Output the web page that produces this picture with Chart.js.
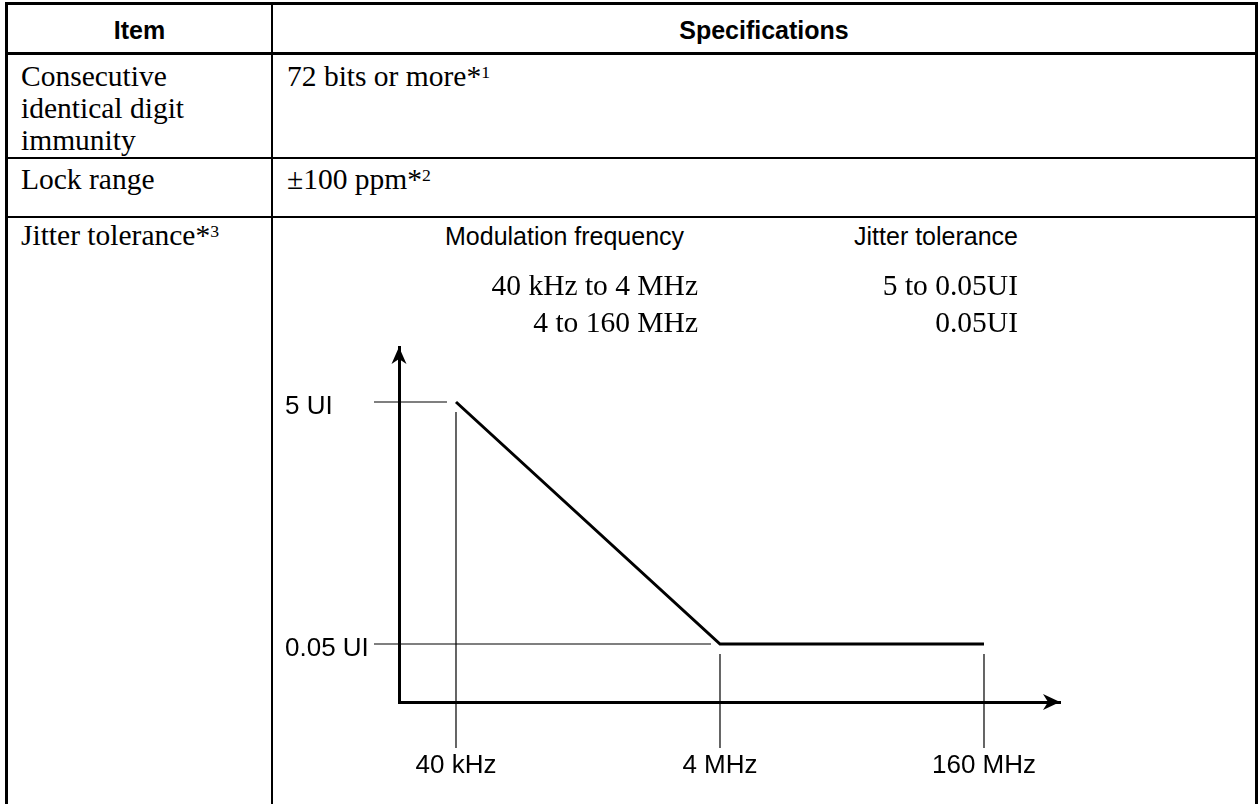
<!DOCTYPE html>
<html>
<head>
<meta charset="utf-8">
<script src="https://cdn.jsdelivr.net/npm/chart.js@4.4.1/dist/chart.umd.min.js"></script>
<style>
  html, body { margin: 0; padding: 0; background: #fff; }
  body { width: 1258px; height: 804px; position: relative; overflow: hidden; color: #000; }
  .ln { position: absolute; background: #000; }
  .t { position: absolute; white-space: nowrap; }
  .hd { font: bold 25px/25px "Liberation Sans", Arial, sans-serif; text-align: center; }
  .sf { font: 29.5px/32px "Liberation Serif", "Times New Roman", serif; }
  .ss { font: 25px/25px "Liberation Sans", Arial, sans-serif; }
  .sup { font-size: 60%; position: relative; top: -0.45em; }
  #chartBox { position: absolute; left: 274px; top: 300px; width: 980px; height: 500px; }
</style>
</head>
<body>
  <!-- table rules -->
  <div class="ln" style="left:5px;top:2px;width:1253px;height:3px"></div>
  <div class="ln" style="left:5px;top:2px;width:3px;height:810px"></div>
  <div class="ln" style="left:1255px;top:2px;width:3px;height:810px"></div>
  <div class="ln" style="left:271px;top:2px;width:2px;height:810px"></div>
  <div class="ln" style="left:5px;top:52px;width:1253px;height:3px"></div>
  <div class="ln" style="left:5px;top:157px;width:1253px;height:2px"></div>
  <div class="ln" style="left:5px;top:216px;width:1253px;height:2px"></div>

  <!-- header -->
  <div class="t hd" style="left:8px;width:263px;top:18px">Item</div>
  <div class="t hd" style="left:273px;width:982px;top:18px">Specifications</div>

  <!-- rows -->
  <div class="t sf" style="left:21px;top:60px">Consecutive<br>identical digit<br>immunity</div>
  <div class="t sf" style="left:287px;top:60px">72 bits or more*<span class="sup">1</span></div>
  <div class="t sf" style="left:21px;top:163px">Lock range</div>
  <div class="t sf" style="left:287px;top:163px">±100 ppm*<span class="sup">2</span></div>
  <div class="t sf" style="left:21px;top:219px">Jitter tolerance*<span class="sup">3</span></div>

  <div class="t ss" style="left:445px;top:224px">Modulation frequency</div>
  <div class="t ss" style="right:240px;top:224px">Jitter tolerance</div>

  <div id="chartBox"><canvas id="jitterChart" width="980" height="500"></canvas></div>

<script>
// spec table values
const modFreqRanges = ['40 kHz to 4 MHz', '4 to 160 MHz'];
const tolRanges = ['5 to 0.05UI', '0.05UI'];

// jitter tolerance mask
const freqLabels = ['40 kHz', '4 MHz', '160 MHz'];
const toleranceUI = [5, 0.05, 0.05];
const yTickValues = [0.05, 5];
const yTickLabels = ['0.05 UI', '5 UI'];

// text rows under the two headings
function putRows(list, right) {
  list.forEach((txt, i) => {
    let d = document.createElement('div');
    d.className = 't sf';
    d.style.right = right + 'px';
    d.style.top = (269 + i * 37) + 'px';
    d.textContent = txt;
    document.body.appendChild(d);
  });
}
putRows(modFreqRanges, 560);
putRows(tolRanges, 240);

const sansFont = { family: '"Liberation Sans", Arial, sans-serif', size: 26 };

// leader lines + axis arrow heads
const maskDecor = {
  id: 'maskDecor',
  beforeDatasetsDraw(chart) {
    const { ctx, chartArea } = chart;
    const xs = chart.scales.x, ys = chart.scales.y;
    ctx.save();
    ctx.strokeStyle = '#000';
    ctx.lineWidth = 1.2;
    ctx.beginPath();
    yTickValues.forEach(v => {
      let y = ys.getPixelForValue(v);
      let i = toleranceUI.indexOf(v);
      ctx.moveTo(chartArea.left - 25, y);
      ctx.lineTo(xs.getPixelForValue(i) - 9, y);
    });
    freqLabels.forEach((_, i) => {
      let x = xs.getPixelForValue(i);
      let y0 = ys.getPixelForValue(toleranceUI[i]) + 10;
      ctx.moveTo(x, y0);
      ctx.lineTo(x, chartArea.bottom + 46);
    });
    ctx.stroke();
    ctx.restore();
  },
  afterDraw(chart) {
    const { ctx, chartArea } = chart;
    ctx.save();
    ctx.fillStyle = '#000';
    // x arrow
    let tx = chartArea.right, ty = chartArea.bottom;
    ctx.beginPath();
    ctx.moveTo(tx, ty);
    ctx.lineTo(tx - 17, ty - 8);
    ctx.lineTo(tx - 12, ty);
    ctx.lineTo(tx - 17, ty + 8);
    ctx.closePath();
    ctx.fill();
    // y arrow
    tx = chartArea.left; ty = chartArea.top;
    ctx.beginPath();
    ctx.moveTo(tx, ty);
    ctx.lineTo(tx - 7.5, ty + 17);
    ctx.lineTo(tx, ty + 12);
    ctx.lineTo(tx + 7.5, ty + 17);
    ctx.closePath();
    ctx.fill();
    ctx.restore();
  }
};

let ctx = document.getElementById('jitterChart').getContext('2d');
let jitterChart = new Chart(ctx, {
  type: 'line',
  data: {
    datasets: [{
      label: 'Jitter tolerance',
      data: toleranceUI.map((v, i) => ({ x: i, y: v })),
      borderColor: '#000',
      borderWidth: 3,
      pointRadius: 0,
      tension: 0,
      fill: false
    }]
  },
  options: {
    responsive: false,
    animation: false,
    devicePixelRatio: 1,
    layout: { padding: { left: 11, top: 47, right: 194, bottom: 0 } },
    plugins: { legend: { display: false }, tooltip: { enabled: false } },
    scales: {
      x: {
        type: 'linear',
        min: -0.2159,
        max: 2.2879,
        bounds: 'data',
        afterBuildTicks: s => { s.ticks = freqLabels.map((_, i) => ({ value: i })); },
        afterFit: s => { s.height = 98; },
        grid: { display: false, drawTicks: false },
        border: { display: true, color: '#000', width: 3 },
        ticks: {
          callback: v => freqLabels[v],
          font: sansFont, color: '#000', padding: 48,
          maxRotation: 0, autoSkip: false
        }
      },
      y: {
        type: 'logarithmic',
        min: 0.016584,
        max: 14.2415,
        bounds: 'data',
        afterBuildTicks: s => { s.ticks = yTickValues.map(v => ({ value: v })); },
        afterFit: s => { s.width = 114; },
        grid: { display: false, drawTicks: false },
        border: { display: true, color: '#000', width: 3 },
        ticks: {
          callback: v => yTickLabels[yTickValues.indexOf(v)],
          font: sansFont, color: '#000', padding: 0,
          crossAlign: 'far', labelOffset: 5, autoSkip: false
        }
      }
    }
  },
  plugins: [maskDecor]
});
</script>
</body>
</html>
